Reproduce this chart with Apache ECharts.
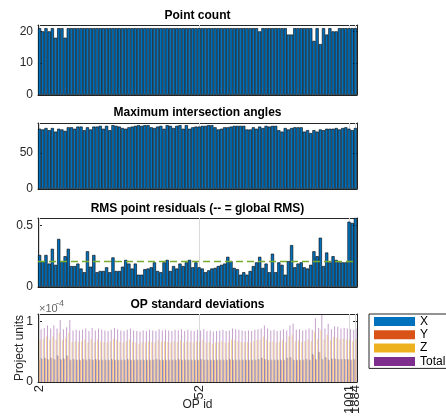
<!DOCTYPE html>
<html><head><meta charset="utf-8">
<script src="https://cdn.jsdelivr.net/npm/echarts@6/dist/echarts.min.js"></script>
<style>html,body{margin:0;padding:0;background:#fff}#c{width:446px;height:419px}</style>
</head><body><div id="c"></div>
<script>
// ---------- data ----------
const opIds = ['2','3','4','5','6','7','8','9','10','11','12','13','14','15','16','17','18','19','20','21',
 '22','23','24','25','26','27','28','29','30','31','32','33','34','35','36','37','38','39','40','41',
 '42','43','44','45','46','47','48','49','50','51','52','53','54','55','56','57','58','59','60','61',
 '62','63','64','65','66','67','68','69','70','71','72','73','74','75','76','77','78','79','80','81',
 '82','83','84','85','86','87','88','89','90','91','92','93','94','95','96','97','98','1001','1002','1884'];
const tickLabels = ['2','52','1001','1884'];

const pointCount = [21,20,21,20,21,18,21,21,18,21,
 21,21,21,21,21,21,21,21,21,21, 21,21,21,21,21,21,21,21,21,21,
 21,21,21,21,21,21,21,21,21,21, 21,21,21,21,21,21,21,21,21,21,
 21,21,21,21,21,21,21,21,21,21, 21,21,21,21,21,21,21,21,21,20,
 21,21,21,21,21,21,21,21,19,19, 21,21,21,21,21,21,17,21,16,21,
 19,21,20,20,21,21,21,21,21,21];

const maxAngle = [84,83,85,82,85,80,84,83,81,86, 86,84,87,87,82,86,83,87,87,88,
 84,88,82,89,88,87,85,84,86,87, 88,89,88,89,89,86,85,87,88,84,
 89,88,85,88,89,84,89,84,86,87, 87,88,88,89,89,86,83,84,86,86,
 87,88,88,88,88,83,83,86,84,87, 85,88,87,88,88,82,80,85,83,85,
 86,86,86,80,82,78,82,80,83,82, 84,84,84,85,83,85,86,84,82,85];

const rmsResidual = [0.26,0.21,0.26,0.19,0.31,0.18,0.39,0.21,0.25,0.31,
 0.17,0.17,0.19,0.15,0.12,0.29,0.165,0.26,0.12,0.13,
 0.13,0.16,0.12,0.24,0.13,0.13,0.165,0.22,0.19,0.15,
 0.19,0.10,0.10,0.145,0.15,0.16,0.20,0.13,0.12,0.20,
 0.22,0.13,0.17,0.15,0.19,0.17,0.20,0.22,0.16,0.20,
 0.16,0.15,0.12,0.135,0.15,0.155,0.17,0.18,0.19,0.245,
 0.21,0.155,0.145,0.10,0.12,0.10,0.13,0.17,0.20,0.245,
 0.155,0.19,0.12,0.27,0.12,0.20,0.18,0.10,0.21,0.34,
 0.16,0.19,0.20,0.16,0.15,0.18,0.29,0.25,0.40,0.17,
 0.28,0.20,0.25,0.22,0.20,0.20,0.20,0.53,0.52,0.56];
const globalRMS = 0.215;

// OP standard deviations, in units of 1e-4
const stdX = [0.38,0.39,0.40,0.38,0.40,0.38,0.44,0.38,0.39,0.44,
 0.37,0.38,0.37,0.37,0.38,0.37,0.38,0.37,0.38,0.37, 0.37,0.37,0.37,0.38,0.37,0.37,0.37,0.37,0.38,0.37,
 0.37,0.37,0.37,0.37,0.37,0.37,0.37,0.38,0.37,0.37, 0.37,0.37,0.37,0.37,0.38,0.37,0.37,0.37,0.37,0.37,
 0.37,0.38,0.37,0.37,0.37,0.37,0.37,0.37,0.37,0.37, 0.38,0.37,0.37,0.37,0.37,0.37,0.37,0.37,0.37,0.38,
 0.40,0.38,0.37,0.37,0.37,0.37,0.37,0.37,0.40,0.41, 0.37,0.37,0.37,0.37,0.38,0.37,0.46,0.38,0.50,0.38,
 0.41,0.37,0.39,0.39,0.38,0.38,0.38,0.38,0.37,0.38];
const stdY = [0.37,0.38,0.39,0.37,0.39,0.37,0.43,0.37,0.38,0.43,
 0.36,0.37,0.36,0.36,0.37,0.36,0.37,0.36,0.37,0.36, 0.36,0.36,0.36,0.37,0.36,0.36,0.36,0.36,0.37,0.36,
 0.36,0.36,0.36,0.36,0.36,0.36,0.36,0.37,0.36,0.36, 0.36,0.36,0.36,0.36,0.37,0.36,0.36,0.36,0.36,0.36,
 0.36,0.37,0.36,0.36,0.36,0.36,0.36,0.36,0.36,0.36, 0.37,0.36,0.36,0.36,0.36,0.36,0.36,0.36,0.36,0.37,
 0.39,0.37,0.36,0.36,0.36,0.36,0.36,0.36,0.39,0.40, 0.36,0.36,0.36,0.36,0.37,0.36,0.45,0.37,0.49,0.37,
 0.40,0.36,0.38,0.38,0.37,0.37,0.37,0.37,0.36,0.37];
const stdZ = [0.69,0.71,0.75,0.70,0.75,0.70,0.81,0.69,0.73,0.81,
 0.66,0.67,0.66,0.67,0.70,0.65,0.71,0.66,0.70,0.67, 0.66,0.65,0.67,0.71,0.69,0.66,0.65,0.67,0.70,0.66,
 0.65,0.63,0.66,0.65,0.67,0.66,0.65,0.69,0.66,0.67, 0.66,0.65,0.67,0.66,0.69,0.65,0.67,0.66,0.65,0.67,
 0.66,0.69,0.65,0.66,0.63,0.65,0.66,0.67,0.65,0.66, 0.70,0.69,0.67,0.66,0.65,0.66,0.65,0.67,0.69,0.70,
 0.75,0.70,0.66,0.67,0.65,0.66,0.69,0.66,0.75,0.78, 0.67,0.69,0.66,0.67,0.70,0.67,0.83,0.71,0.86,0.70,
 0.78,0.69,0.74,0.73,0.70,0.71,0.70,0.69,0.67,0.70];
const stdTotal = [0.87,0.89,0.93,0.88,0.93,0.88,1.02,0.87,0.90,1.02,
 0.85,0.86,0.85,0.86,0.88,0.84,0.89,0.85,0.88,0.86, 0.85,0.84,0.86,0.89,0.87,0.85,0.84,0.86,0.88,0.85,
 0.84,0.83,0.85,0.84,0.86,0.85,0.84,0.87,0.85,0.86, 0.85,0.84,0.86,0.85,0.87,0.84,0.86,0.85,0.84,0.86,
 0.85,0.87,0.84,0.85,0.83,0.84,0.85,0.86,0.84,0.85, 0.88,0.87,0.86,0.85,0.84,0.85,0.84,0.86,0.87,0.88,
 0.93,0.88,0.85,0.86,0.84,0.85,0.87,0.85,0.93,0.96, 0.86,0.87,0.85,0.86,0.88,0.86,1.05,0.89,1.11,0.88,
 0.96,0.87,0.92,0.91,0.88,0.89,0.88,0.87,0.86,0.88];

const titles = ['Point count','Maximum intersection angles','RMS point residuals (-- = global RMS)','OP standard deviations'];
const seriesNames = ['X','Y','Z','Total'];

// ---------- chart ----------
const FONT = 'Liberation Sans, Arial, Helvetica, sans-serif';
const AX = '#262626';
const chart = echarts.init(document.getElementById('c'), null, {renderer:'canvas'});
const grids = [
  {left:38, width:319, top:25, height:70},
  {left:38, width:319, top:123, height:66},
  {left:38, width:319, top:218, height:69},
  {left:38, width:319, top:314, height:68}
];
const yCfg = [
  {min:0, max:22, interval:10},
  {min:0, max:92, interval:50},
  {min:0, max:0.56, interval:0.5},
  {min:0, max:1.12, interval:1}
];
const tickSet = new Set(tickLabels);
const tickFn = (idx) => tickSet.has(opIds[idx]);
const lastLabel = tickLabels[tickLabels.length - 1];
const labelFnMain = (idx) => tickSet.has(opIds[idx]) && opIds[idx] !== lastLabel;
const labelFnLast = (idx) => opIds[idx] === lastLabel;

const xAxes = [], yAxes = [];
for (let pos of ['bottom','top']) {
  grids.forEach((g, i) => {
    xAxes.push({
      type:'category', gridIndex:i, data:opIds, position:pos, boundaryGap:true,
      axisLine:{show:true, onZero:false, lineStyle:{color:AX, width:1}},
      axisTick:{show:true, inside:true, length:4, alignWithLabel:true, interval:tickFn, lineStyle:{color:AX}},
      axisLabel:{show: pos==='bottom' && i===3, interval:labelFnMain, rotate:90, fontSize:13, color:AX, fontFamily:FONT, margin:3},
      splitLine:{show:false},
      name: (pos==='bottom' && i===3) ? 'OP id' : '',
      nameLocation:'middle', nameGap:17, nameMoveOverlap:false,
      nameTextStyle:{fontSize:12, color:AX, fontFamily:FONT}
    });
  });
}
// second label row for the last tick (it sits right next to the previous one)
xAxes.push({
  type:'category', gridIndex:3, data:opIds, position:'bottom', boundaryGap:true,
  axisLine:{show:false}, axisTick:{show:false}, splitLine:{show:false},
  axisLabel:{show:true, interval:labelFnLast, rotate:90, fontSize:13, color:AX, fontFamily:FONT, margin:3}
});
for (let pos of ['left','right']) {
  grids.forEach((g, i) => {
    yAxes.push(Object.assign({
      type:'value', gridIndex:i, position:pos,
      axisLine:{show:true, lineStyle:{color:AX, width:1}},
      axisTick:{show:true, inside:true, length:4, lineStyle:{color:AX}},
      axisLabel:{show: pos==='left', fontSize:12, color:AX, fontFamily:FONT, margin:5, showMaxLabel:false},
      splitLine:{show:false},
      name: (pos==='left' && i===3) ? 'Project units' : '',
      nameLocation:'middle', nameGap:12, nameRotate:90, nameMoveOverlap:false,
      nameTextStyle:{fontSize:12, color:AX, fontFamily:FONT}
    }, yCfg[i]));
  });
}

const barStyle = {color:'#0072BD', borderColor:'#000', borderWidth:0.6};
const series = [];
[pointCount, maxAngle, rmsResidual].forEach((d, i) => {
  const s = {type:'bar', xAxisIndex:i, yAxisIndex:i, data:d, barCategoryGap:'0%', itemStyle:barStyle, z:10, silent:true, animation:false};
  if (i === 2) {
    s.markLine = {silent:true, symbol:'none', z:12, label:{show:false},
      lineStyle:{color:'#77AC30', type:[7,4], width:1.3}, data:[{yAxis:globalRMS}]};
  }
  series.push(s);
});
const stdColors = ['#0072BD','#D95319','#EDB120','#7E2F8E'];
[stdX, stdY, stdZ, stdTotal].forEach((d, k) => {
  series.push({type:'bar', name:seriesNames[k], xAxisIndex:3, yAxisIndex:3, data:d,
    barGap:'0%', barCategoryGap:'20%', z:10, silent:true, animation:false,
    itemStyle:{color:stdColors[k], opacity:0.45}});
});
// grid lines at the labelled ticks (behind the bars)
grids.forEach((g, i) => {
  series.push({type:'line', xAxisIndex:i, yAxisIndex:i, data:[], silent:true, animation:false, z:1,
    markLine:{silent:true, symbol:'none', z:1, label:{show:false},
      lineStyle:{color:'#d9d9d9', type:'solid', width:1},
      data: tickLabels.map(t => ({xAxis:t}))}});
});

const option = {
  animation:false,
  textStyle:{fontFamily:FONT},
  title: titles.map((t, i) => ({
    text:t, left:197.5, textAlign:'center', top:[10,107,203,299][i], padding:0,
    textStyle:{fontSize:12, fontWeight:'bold', color:'#000', fontFamily:FONT}
  })),
  grid: grids.map(g => Object.assign({containLabel:false, outerBoundsMode:'none'}, g)),
  xAxis: xAxes,
  yAxis: yAxes,
  legend: {
    data: seriesNames, orient:'vertical', left:369, top:314, icon:'rect',
    itemWidth:41, itemHeight:9, itemGap:1.3, padding:[1.5,20,1,5],
    borderColor:AX, borderWidth:1, backgroundColor:'#fff',
    itemStyle:{opacity:1},
    textStyle:{fontSize:12, lineHeight:12, color:'#000', fontFamily:FONT}
  },
  graphic: [
    {type:'text', left:39, top:303, style:{text:'×10', fontSize:11, fill:'#666', fontFamily:FONT}},
    {type:'text', left:56, top:299, style:{text:'-4', fontSize:9, fill:'#666', fontFamily:FONT}}
  ],
  series: series
};
chart.setOption(option);
</script>
</body></html>
